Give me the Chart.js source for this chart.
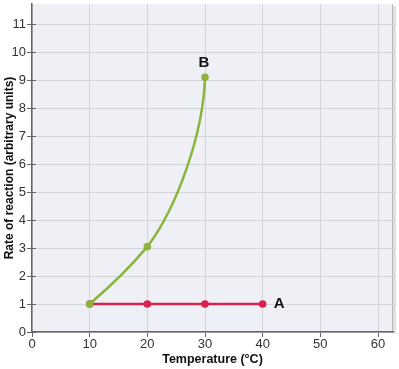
<!DOCTYPE html>
<html>
<head>
<meta charset="utf-8">
<script src="https://cdn.jsdelivr.net/npm/chart.js@4"></script>
<style>
  html, body { margin: 0; padding: 0; background: #fff; }
  #wrap { width: 399px; height: 369px; }
</style>
</head>
<body>
<div id="wrap"><canvas id="rateChart" width="399" height="369"></canvas></div>
<script>
// temperature (°C) and rate of reaction readings
var tempsB = [10, 20, 30];
var rateB = [1, 3.05, 9.1];
var tempsA = [10, 20, 30, 40];
var rateA = [1, 1, 1, 1];
var xTicks = [0, 10, 20, 30, 40, 50, 60];
var yTicks = [0, 1, 2, 3, 4, 5, 6, 7, 8, 9, 10, 11];
var curveLabels = ['B', 'A'];

var green = '#8cb43c';
var red = '#d9204f';
var fontFam = '"Liberation Sans", Arial, sans-serif';

// plot background, right-edge shadow, the B curve and curve labels
var decor = {
  id: 'decor',
  beforeDraw: function(chart) {
    var c = chart.ctx, a = chart.chartArea;
    c.save();
    c.fillStyle = '#eef0f5';
    c.fillRect(a.left, a.top, a.right - a.left, a.bottom - a.top);
    c.fillStyle = 'rgba(0,0,0,0.12)';
    c.fillRect(a.right, a.top + 2, 3, a.bottom - a.top);
    c.fillStyle = '#b8b8b8';
    c.fillRect(a.right - 1, a.top, 1, a.bottom - a.top);
    c.restore();
  },
  beforeDatasetsDraw: function(chart) {
    // curve B bends upward sharply; draw it as a spline through its points
    var c = chart.ctx;
    var pts = chart.getDatasetMeta(0).data;
    var p0 = pts[0], p1 = pts[1], p2 = pts[2];
    c.save();
    c.strokeStyle = green;
    c.lineWidth = 2.5;
    c.lineCap = 'round';
    c.beginPath();
    c.moveTo(p0.x, p0.y);
    var d1 = p1.x - p0.x, d2 = p2.x - p1.x;
    c.bezierCurveTo(p0.x + d1 * 0.35, p0.y - d1 * 0.3,
                    p1.x - d1 * 0.3, p1.y + d1 * 0.36,
                    p1.x, p1.y);
    c.bezierCurveTo(p1.x + d2 * 0.5, p1.y - d2 * 0.66,
                    p2.x - d2 * 0.03, p2.y + d2 * 1.0,
                    p2.x, p2.y);
    c.stroke();
    c.restore();
  },
  afterDraw: function(chart) {
    var c = chart.ctx;
    var x = chart.scales.x, y = chart.scales.y;
    c.save();
    c.fillStyle = '#111';
    c.font = 'bold 15px ' + fontFam;
    c.textAlign = 'center';
    c.textBaseline = 'bottom';
    c.fillText(curveLabels[0], x.getPixelForValue(tempsB[2]) - 1, y.getPixelForValue(rateB[2]) - 7);
    c.textAlign = 'left';
    c.textBaseline = 'middle';
    c.fillText(curveLabels[1], x.getPixelForValue(tempsA[3]) + 11, y.getPixelForValue(rateA[3]));
    // short inner tick stubs on the y axis
    c.strokeStyle = '#666';
    c.lineWidth = 1;
    yTicks.forEach(function(v) {
      var py = Math.round(y.getPixelForValue(v)) + 0.5;
      c.beginPath();
      c.moveTo(x.left, py);
      c.lineTo(x.left + 4, py);
      c.stroke();
    });
    c.restore();
  }
};

var ctx = document.getElementById('rateChart').getContext('2d');
var rateChart = new Chart(ctx, {
  type: 'scatter',
  data: {
    datasets: [{
      label: 'B',
      data: tempsB.map(function(t, i) { return { x: t, y: rateB[i] }; }),
      showLine: false,
      borderColor: green,
      backgroundColor: green,
      pointRadius: 3.8,
      pointBorderWidth: 0
    }, {
      label: 'A',
      data: tempsA.map(function(t, i) { return { x: t, y: rateA[i] }; }),
      showLine: true,
      borderColor: red,
      backgroundColor: red,
      borderWidth: 2.5,
      pointRadius: 3.8,
      pointBorderWidth: 0,
      tension: 0
    }]
  },
  options: {
    responsive: false,
    animation: false,
    layout: { padding: { top: 3, right: 6, left: 0, bottom: 0 } },
    plugins: { legend: { display: false }, tooltip: { enabled: false } },
    scales: {
      x: {
        type: 'linear',
        min: 0,
        max: 62.6,
        afterBuildTicks: function(axis) { axis.ticks = xTicks.map(function(v) { return { value: v }; }); },
        afterFit: function(axis) { axis.height = 37; },
        border: { color: '#666', width: 1.5 },
        grid: { color: '#d3d5da', tickColor: '#666', tickLength: 5 },
        ticks: { color: '#333', padding: 0, font: { family: fontFam, size: 13 } },
        title: { display: true, text: 'Temperature (°C)', color: '#111', padding: { top: 0, bottom: 2 },
                 font: { family: fontFam, size: 12.5, weight: 'bold' } }
      },
      y: {
        min: 0,
        max: 11.72,
        afterBuildTicks: function(axis) { axis.ticks = yTicks.map(function(v) { return { value: v }; }); },
        afterFit: function(axis) { axis.width = 32; },
        border: { color: '#666', width: 1.5 },
        grid: { color: '#d3d5da', tickColor: '#666', tickLength: 5 },
        ticks: { color: '#333', padding: 1, font: { family: fontFam, size: 13, lineHeight: 0.3 } },
        title: { display: true, text: 'Rate of reaction (arbitrary units)', color: '#111', padding: { top: 2, bottom: 0 },
                 font: { family: fontFam, size: 12, weight: 'bold' } }
      }
    }
  },
  plugins: [decor]
});
</script>
</body>
</html>
